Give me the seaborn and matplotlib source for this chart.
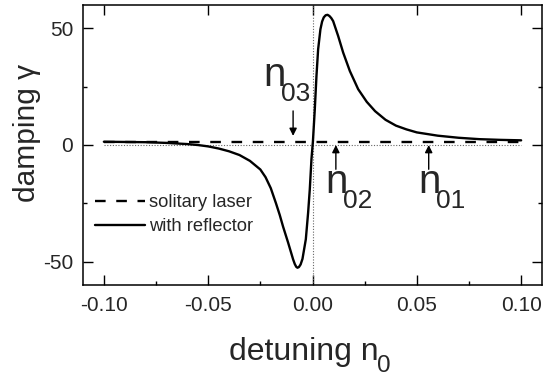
import matplotlib
matplotlib.use("Agg")
import matplotlib.pyplot as plt
import seaborn as sns
import pandas as pd
import numpy as np

# ---- data ----
detuning = [-0.100, -0.090, -0.080, -0.070, -0.060, -0.055, -0.050, -0.045,
            -0.040, -0.035, -0.030, -0.025, -0.0225, -0.020, -0.0175, -0.0157,
            -0.0141, -0.0117, -0.0093, -0.0085, -0.0078, -0.0072, -0.0065,
            -0.0057, -0.0048, -0.0032, -0.0021, -0.0013, -0.0005, 0.0002,
            0.0011, 0.0019, 0.0027, 0.0038, 0.0046, 0.0054, 0.0063, 0.0072,
            0.0081, 0.0090, 0.0099, 0.0123, 0.0147, 0.0179, 0.0219,
            0.0260, 0.0300, 0.0350, 0.0400, 0.0450, 0.0500, 0.0600, 0.0700,
            0.0800, 0.0900, 0.1000]
damping_reflector = [1.4, 1.3, 1.2, 0.9, 0.4, 0.0, -0.6, -1.5,
                     -2.7, -4.3, -6.8, -10.5, -13.8, -18.5, -25.0, -30.0,
                     -35.0, -41.8, -49.0, -51.0, -52.2, -52.6, -52.3,
                     -51.2, -48.8, -40.4, -29.0, -19.0, -6.1, 1.5,
                     15.3, 29.6, 41.0, 49.6, 52.9, 54.7, 55.6, 55.8,
                     55.3, 54.4, 53.1, 46.7, 39.6, 31.7, 23.9,
                     18.5, 14.5, 10.8, 8.3, 6.7, 5.4, 4.0, 3.1,
                     2.5, 2.2, 2.0]
solitary_x = [-0.100, 0.100]
solitary_y = [1.5, 1.5]
series_labels = ["solitary laser", "with reflector"]
xticks = [-0.10, -0.05, 0.00, 0.05, 0.10]
yticks = [-50, 0, 50]
marker_names = ["03", "02", "01"]
marker_x = [-0.0093, 0.0112, 0.0557]

sns.set_style("ticks")
plt.rcParams["font.family"] = ["Liberation Sans", "DejaVu Sans"]
plt.rcParams["axes.unicode_minus"] = False

fig = plt.figure(figsize=(5.57, 3.78), dpi=100)
ax = fig.add_axes([83/557, 1-285/378, 459/557, 280/378])

df_sol = pd.DataFrame({"x": solitary_x, "y": solitary_y})
df_ref = pd.DataFrame({"x": detuning, "y": damping_reflector})

# reference lines
ax.axvline(0, color="0.4", lw=0.8, ls=(0, (1, 1.5)), zorder=1)
ax.plot([xticks[0], xticks[-1]], [0, 0], color="0.4", lw=0.8, ls=(0, (1, 1.5)), zorder=1)

sns.lineplot(data=df_sol, x="x", y="y", ax=ax, color="black", lw=1.7,
             dashes=False, label=series_labels[0], zorder=3)
ax.lines[-1].set_dashes((4.5, 4.5))
sns.lineplot(data=df_ref, x="x", y="y", ax=ax, color="black", lw=1.7,
             label=series_labels[1], zorder=4)
ax.lines[-1].set_solid_joinstyle("round")

ax.set_xlim(-0.11, 0.11)
ax.set_ylim(-60, 60)
ax.set_xticks(xticks)
ax.set_xticklabels([f"{v:.2f}" for v in xticks])
ax.set_yticks(yticks)
ax.set_yticklabels([str(v) for v in yticks])
ax.set_xticks([-0.075, -0.025, 0.025, 0.075], minor=True)
ax.set_yticks([-25, 25], minor=True)
ax.tick_params(which="major", direction="in", length=7.5, width=1.0,
               top=True, right=True, labelsize=15, color="black")
ax.tick_params(axis="x", which="major", pad=8)
ax.tick_params(axis="y", which="major", pad=7)
ax.tick_params(which="minor", direction="in", length=3, width=1.0,
               top=False, right=True, color="black")
for s in ax.spines.values():
    s.set_linewidth(1.1)
    s.set_color("black")

# x label: "detuning n" plus a large subscript 0
ax.set_xlabel("detuning n", fontsize=23)
ax.xaxis.set_label_coords((304 - 83) / 459, (285 - 337) / 280)
ax.text((377 - 83) / 459, (285 - 372.5) / 280, "0", transform=ax.transAxes,
        fontsize=17.5, ha="left", va="baseline")

ax.set_ylabel("damping γ", fontsize=21.5)
ax.yaxis.set_label_coords((41 - 83) / 459, (285 - 132.5) / 280)

leg = ax.legend(loc="center left", bbox_to_anchor=(0.0255, 0.251),
                frameon=False, fontsize=13.2, handlelength=2.75, handletextpad=0.22,
                borderpad=0, borderaxespad=0, labelspacing=0.36)

# markers n_0x with arrows
tips = [3.9, 0.0, 0.0]
tails = [14.6, -10.4, -10.4]
for x0, tip, tail in zip(marker_x, tips, tails):
    ax.annotate("", xy=(x0, tip), xytext=(x0, tail),
                arrowprops=dict(arrowstyle="-|>", color="black", lw=1.0,
                                mutation_scale=11, shrinkA=0, shrinkB=0))

text_pos = [(-0.0236, 25.1), (0.0062, -20.6), (0.0509, -20.6)]
for name, (tx, ty) in zip(marker_names, text_pos):
    ax.text(tx, ty, "n", fontsize=29, ha="left", va="baseline")
    ax.annotate(name, xy=(tx, ty), xytext=(12.5, -10.5), textcoords="offset points",
                fontsize=19, ha="left", va="baseline")

fig.savefig("out.png", dpi=100)
